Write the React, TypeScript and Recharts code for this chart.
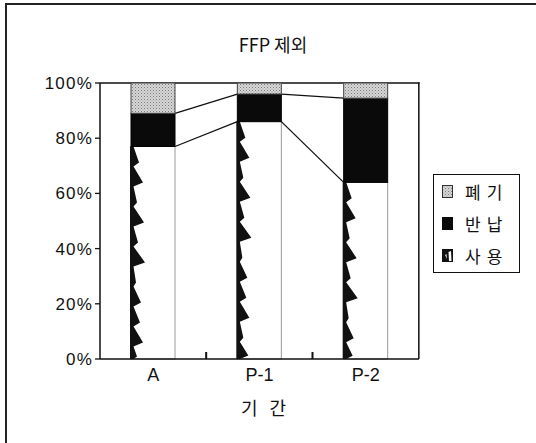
import React from 'react';
import { ComposedChart, Bar, XAxis, YAxis, Legend } from 'recharts';

const categories = ['A', 'P-1', 'P-2'];
const useVals = [77, 86, 64];
const returnVals = [12, 10, 30.5];
const discardVals = [11, 4, 5.5];
const yTicks = [0, 20, 40, 60, 80, 100];
const legendItems = [
  { key: 'disc', label: '폐기' },
  { key: 'ret', label: '반납' },
  { key: 'use', label: '사용' },
];

const data = categories.map((name, i) => ({
  name,
  use: useVals[i],
  ret: returnVals[i],
  disc: discardVals[i],
}));

const W = 536;
const H = 443;
const MARGIN = { top: 83, right: 117, bottom: 54, left: 40 };
const YAXIS_W = 60;
const XAXIS_H = 30;
const PLOT_W = W - MARGIN.left - YAXIS_W - MARGIN.right;
const BAND = PLOT_W / categories.length;
const FEATHERS = [8, 12, 6, 13, 7, 14, 5, 10, 9, 12, 6, 11, 8, 12];
const NUM_FONT = '"Liberation Sans", Arial, sans-serif';
const KR_FONT = '"Noto Sans CJK KR", "Noto Sans", sans-serif';

function UseShape(props: any) {
  const { x, y, width, height, index } = props;
  if (!(height > 0)) return null;
  const i = Number(index);
  const P = 20;
  let d = `M${x},${y + height} L${x},${y}`;
  let cy = y;
  let k = 0;
  while (cy < y + height - 0.5) {
    const w = FEATHERS[k % FEATHERS.length];
    const end = Math.min(cy + P, y + height);
    const mid = cy + (end - cy) * 0.8;
    d += ` L${x + 2.5},${cy} L${x + w},${mid} L${x + 2.5},${end}`;
    cy = end;
    k++;
  }
  d += ' Z';
  const bx = x + width / 2 + BAND / 2;
  const isLast = i >= categories.length - 1;
  let frame: any = null;
  if (i === 0) {
    const ppu = height / useVals[0];
    const zeroY = y + height;
    const topY = zeroY - 100 * ppu;
    const plotLeft = x + width / 2 - BAND / 2;
    const plotRight = plotLeft + BAND * categories.length;
    frame = (
      <g>
        <rect x={plotLeft} y={topY - 0.75} width={plotRight - plotLeft + 0.75} height={1.5} fill="#111" />
        <rect x={plotRight - 0.75} y={topY - 0.75} width={1.5} height={zeroY - topY + 0.75} fill="#111" />
      </g>
    );
  }
  return (
    <g>
      {frame}
      <rect x={x} y={y} width={width} height={height} fill="#fff" stroke="#9a9a9a" strokeWidth={1} />
      <path d={d} fill="#111" />
      <rect x={x - 1} y={y} width={2} height={height} fill="#111" />
      {!isLast && <rect x={bx - 1} y={y + height - 7} width={2} height={7} fill="#111" />}
    </g>
  );
}

function ReturnShape(props: any) {
  const { x, y, width, height, index } = props;
  if (!(height > 0)) return null;
  const ppu = height / returnVals[index];
  const zeroY = y + height + useVals[index] * ppu;
  const lines: any[] = [];
  if (index < categories.length - 1) {
    const nx = x + BAND;
    const nUse = zeroY - useVals[index + 1] * ppu;
    const nRet = zeroY - (useVals[index + 1] + returnVals[index + 1]) * ppu;
    lines.push(
      <line key="l1" x1={x + width} y1={y + height} x2={nx} y2={nUse} stroke="#111" strokeWidth={1.3} />,
      <line key="l2" x1={x + width} y1={y} x2={nx} y2={nRet} stroke="#111" strokeWidth={1.3} />
    );
  }
  return (
    <g>
      <rect x={x} y={y} width={width} height={height} fill="#0a0a0a" stroke="#000" strokeWidth={1} />
      {lines}
    </g>
  );
}

function DiscardShape(props: any) {
  const { x, y, width, height } = props;
  if (!(height > 0)) return null;
  return <rect x={x} y={y} width={width} height={height} fill="url(#stip)" stroke="#444" strokeWidth={1} />;
}

function Swatch({ k }: { k: string }) {
  return (
    <svg width={11} height={13} style={{ display: 'block', marginLeft: 8, marginRight: 12 }}>
      {k === 'disc' && <rect x={0.5} y={0.5} width={10} height={12} fill="url(#stip)" stroke="#333" />}
      {k === 'ret' && <rect x={0} y={0} width={11} height={13} fill="#0a0a0a" />}
      {k === 'use' && (
        <g>
          <rect x={0} y={0} width={11} height={13} fill="#111" />
          <path d="M6.5,3 L9,2 L9.5,12 L7,12 Z" fill="#fff" />
          <path d="M3,6 L4.5,5 L5,10 Z" fill="#ddd" />
        </g>
      )}
    </svg>
  );
}

function LegendBox() {
  return (
    <div
      style={{
        width: 87,
        height: 99,
        boxSizing: 'border-box',
        border: '1.5px solid #111',
        background: '#fff',
      }}
    >
      {legendItems.map((it) => (
        <div key={it.key} style={{ display: 'flex', alignItems: 'center', height: 32 }}>
          <Swatch k={it.key} />
          <span
            style={{
              fontFamily: KR_FONT,
              fontSize: 17,
              lineHeight: '17px',
              letterSpacing: 6,
              color: '#111',
              whiteSpace: 'nowrap',
            }}
          >
            {it.label}
          </span>
        </div>
      ))}
    </div>
  );
}

export default function App() {
  return (
    <div style={{ position: 'absolute', left: 0, top: 0, width: W, height: H, background: '#fff', overflow: 'hidden' }}>
      <div
        style={{
          position: 'absolute',
          left: 5,
          top: 3,
          width: 560,
          height: 460,
          borderLeft: '2px solid #222',
          borderTop: '2px solid #222',
        }}
      />
      <div
        style={{
          position: 'absolute',
          left: 273,
          top: 35,
          transform: 'translateX(-50%)',
          whiteSpace: 'nowrap',
          fontFamily: KR_FONT,
          fontSize: 18,
          lineHeight: '18px',
          color: '#111',
        }}
      >
        FFP 제외
      </div>
      <ComposedChart width={W} height={H} data={data} margin={MARGIN}>
        <defs>
          <pattern id="stip" width={3} height={3} patternUnits="userSpaceOnUse">
            <rect x={0} y={0} width={3} height={3} fill="#d6d6d6" />
            <rect x={0} y={0} width={1} height={1} fill="#7a7a7a" />
            <rect x={1.5} y={1.5} width={1} height={1} fill="#9a9a9a" />
          </pattern>
        </defs>
        <XAxis
          dataKey="name"
          tickLine={false}
          tickSize={0}
          tickMargin={9}
          height={XAXIS_H}
          axisLine={{ stroke: '#111', strokeWidth: 1.5 }}
          tick={{ fontSize: 18, fill: '#111', fontFamily: NUM_FONT }}
          label={{
            value: '기 간',
            position: 'bottom',
            offset: 13,
            dx: 6,
            style: { fontSize: 18, fill: '#111', fontFamily: KR_FONT, letterSpacing: 4 },
          }}
        />
        <YAxis
          width={YAXIS_W}
          domain={[0, 100]}
          ticks={yTicks}
          interval={0}
          tickSize={5}
          tickMargin={2}
          tickFormatter={(v: number) => `${v}%`}
          axisLine={{ stroke: '#111', strokeWidth: 1.5 }}
          tickLine={{ stroke: '#111', strokeWidth: 1.3 }}
          tick={{ fontSize: 17, fill: '#111', fontFamily: NUM_FONT, letterSpacing: 1.2 }}
        />
        <Legend
          layout="vertical"
          align="center"
          verticalAlign="middle"
          content={() => <LegendBox />}
          wrapperStyle={{ left: 433, top: 174, width: 87, height: 99 }}
        />
        <Bar dataKey="use" stackId="s" barSize={44} shape={UseShape} isAnimationActive={false} />
        <Bar dataKey="ret" stackId="s" barSize={44} shape={ReturnShape} isAnimationActive={false} />
        <Bar dataKey="disc" stackId="s" barSize={44} shape={DiscardShape} isAnimationActive={false} />
      </ComposedChart>
    </div>
  );
}
